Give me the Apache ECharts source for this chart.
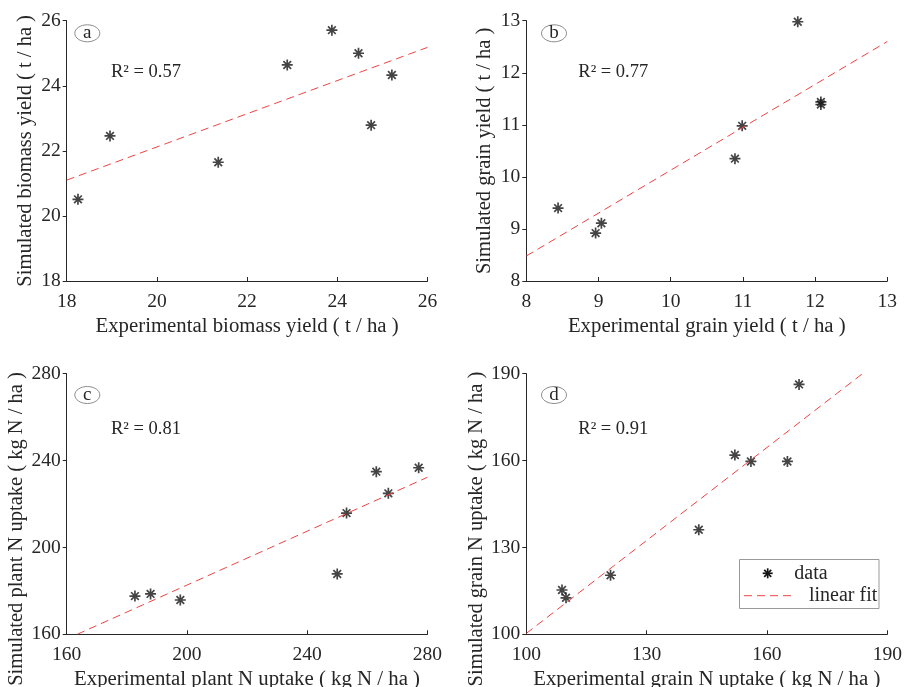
<!DOCTYPE html>
<html>
<head>
<meta charset="utf-8">
<script src="https://cdn.jsdelivr.net/npm/echarts@6/dist/echarts.min.js"></script>
<style>
  html, body { margin: 0; padding: 0; background: #fff; }
  #chart { width: 904px; height: 687px; }
</style>
</head>
<body>
<div id="chart"></div>
<script>
// (a) biomass yield, t/ha
const biomassExp = [18.25, 18.96, 21.36, 22.89, 23.88, 24.47, 24.75, 25.21];
const biomassSim = [20.51, 22.46, 21.65, 24.64, 25.71, 25.0, 22.79, 24.33];
const biomassFit = [[18, 21.1], [26, 25.18]];

// (b) grain yield, t/ha
const grainExp = [8.44, 8.96, 9.04, 10.89, 10.99, 11.76, 12.08, 12.08];
const grainSim = [9.40, 8.92, 9.11, 10.35, 10.98, 12.98, 11.44, 11.39];
const grainFit = [[8, 8.48], [13, 12.6]];

// (c) plant N uptake, kg N/ha
const plantNExp = [182.7, 187.9, 197.8, 250.0, 253.1, 263.0, 267.0, 277.1];
const plantNSim = [177.6, 178.6, 175.8, 187.8, 215.8, 234.9, 224.9, 236.7];
const plantNFit = [[163.5, 160], [280, 232.3]];

// (d) grain N uptake, kg N/ha
const grainNExp = [108.9, 109.9, 121.0, 143.0, 152.0, 156.0, 165.1, 168.0];
const grainNSim = [115.3, 112.6, 120.4, 136.1, 161.9, 159.7, 159.7, 186.3];
const grainNFit = [[100, 100.3], [183.8, 190]];

const r2Labels = ['R\u00b2 = 0.57', 'R\u00b2 = 0.77', 'R\u00b2 = 0.81', 'R\u00b2 = 0.91'];
const panelLetters = ['a', 'b', 'c', 'd'];

const panels = [
  { exp: biomassExp, sim: biomassSim, fit: biomassFit, min: 18, max: 26, step: 2,
    xName: 'Experimental biomass yield ( t / ha )', yName: 'Simulated biomass yield ( t / ha )' },
  { exp: grainExp, sim: grainSim, fit: grainFit, min: 8, max: 13, step: 1,
    xName: 'Experimental grain yield ( t / ha )', yName: 'Simulated grain yield ( t / ha )' },
  { exp: plantNExp, sim: plantNSim, fit: plantNFit, min: 160, max: 280, step: 40,
    xName: 'Experimental plant N uptake ( kg N / ha )', yName: 'Simulated plant N uptake ( kg N / ha )' },
  { exp: grainNExp, sim: grainNSim, fit: grainNFit, min: 100, max: 190, step: 30,
    xName: 'Experimental grain N uptake ( kg N / ha )', yName: 'Simulated grain N uptake ( kg N / ha )' }
];

const grids = [
  { left: 66.7, top: 20.7, width: 360.8, height: 260.3 },
  { left: 526.3, top: 20.7, width: 361, height: 260.3 },
  { left: 66.7, top: 373.7, width: 360.7, height: 260.6 },
  { left: 526.3, top: 373.7, width: 361, height: 260.6 }
].map(g => Object.assign(g, { containLabel: false, outerBoundsMode: 'none' }));

const FONT = 'Liberation Serif';
const INK = '#262626';
const STAR = 'path://M0,-1L0,1M-1,0L1,0M-0.7,-0.7L0.7,0.7M-0.7,0.7L0.7,-0.7';

const axisCommon = (p) => ({
  type: 'value',
  min: p.min,
  max: p.max,
  interval: p.step,
  nameLocation: 'middle',
  splitLine: { show: false },
  axisLine: { lineStyle: { color: INK, width: 1 } }
});

const xAxis = panels.map((p, i) => Object.assign(axisCommon(p), {
  gridIndex: i,
  name: p.xName,
  nameGap: 35,
  axisTick: { inside: true, length: 4, lineStyle: { color: INK } },
  axisLabel: { color: INK, fontFamily: FONT, fontSize: 19.5, margin: 11 },
  nameTextStyle: { color: INK, fontFamily: FONT, fontSize: 20.8 }
}));

const yAxis = panels.map((p, i) => Object.assign(axisCommon(p), {
  gridIndex: i,
  name: p.yName,
  nameGap: 31,
  nameRotate: 90,
  axisTick: { inside: false, length: 4, lineStyle: { color: INK } },
  axisLabel: { color: INK, fontFamily: FONT, fontSize: 19.5, margin: 6 },
  // the lower panels' labels sit a little below the axis centre, as in the source
  nameTextStyle: { color: INK, fontFamily: FONT, fontSize: 20.5,
    padding: i >= 2 ? [0, 50, 0, 0] : 0 }
}));

const series = [];
panels.forEach((p, i) => {
  series.push({
    type: 'line',
    xAxisIndex: i,
    yAxisIndex: i,
    data: p.fit,
    symbol: 'none',
    silent: true,
    lineStyle: { color: '#ee4444', width: 1, type: [8, 5] }
  });
  series.push({
    type: 'scatter',
    xAxisIndex: i,
    yAxisIndex: i,
    data: p.exp.map((x, k) => [x, p.sim[k]]),
    symbol: STAR,
    symbolSize: 11,
    itemStyle: { color: 'rgba(0,0,0,0)', borderColor: '#151515', borderWidth: 1.7 }
  });
});

const badgeCenters = [[87.3, 33.3], [554, 33.3], [87.3, 395], [554, 395]];
const r2Pos = [[111, 72], [578.3, 72], [111, 429.3], [578.3, 429.3]];

const graphic = [];
panelLetters.forEach((letter, i) => {
  const [cx, cy] = badgeCenters[i];
  graphic.push({
    type: 'ellipse',
    shape: { cx: cx, cy: cy, rx: 12.5, ry: 8.5 },
    style: { fill: '#fff', stroke: '#8c8c8c', lineWidth: 1 }
  });
  graphic.push({
    type: 'text',
    x: cx, y: cy,
    style: { text: letter, font: '19px "Liberation Serif"', fill: INK,
      textAlign: 'center', textVerticalAlign: 'middle' }
  });
  graphic.push({
    type: 'text',
    x: r2Pos[i][0], y: r2Pos[i][1],
    style: { text: r2Labels[i], font: '18.5px "Liberation Serif"', fill: INK,
      textAlign: 'left', textVerticalAlign: 'middle' }
  });
});

// legend box in panel d
const starArms = [[0, -5, 0, 5], [-5, 0, 5, 0], [-3.5, -3.5, 3.5, 3.5], [-3.5, 3.5, 3.5, -3.5]];
graphic.push(
  { type: 'rect', shape: { x: 739.5, y: 559.5, width: 139.5, height: 49 },
    style: { fill: '#fff', stroke: '#999', lineWidth: 1 } },
  { type: 'text', x: 794.3, y: 573.3,
    style: { text: 'data', font: '20px "Liberation Serif"', fill: INK, textVerticalAlign: 'middle' } },
  { type: 'line', shape: { x1: 744, y1: 595.7, x2: 792, y2: 595.7 },
    style: { stroke: '#ee4444', lineWidth: 1, lineDash: [8, 5] } },
  { type: 'text', x: 809, y: 595.7,
    style: { text: 'linear fit', font: '20px "Liberation Serif"', fill: INK, textVerticalAlign: 'middle' } }
);
starArms.forEach(a => graphic.push({
  type: 'line',
  shape: { x1: 767.7 + a[0], y1: 573.3 + a[1], x2: 767.7 + a[2], y2: 573.3 + a[3] },
  style: { stroke: '#151515', lineWidth: 1.7 }
}));

const chart = echarts.init(document.getElementById('chart'));
chart.setOption({
  animation: false,
  backgroundColor: '#fff',
  grid: grids,
  xAxis: xAxis,
  yAxis: yAxis,
  series: series,
  graphic: graphic
});
</script>
</body>
</html>
